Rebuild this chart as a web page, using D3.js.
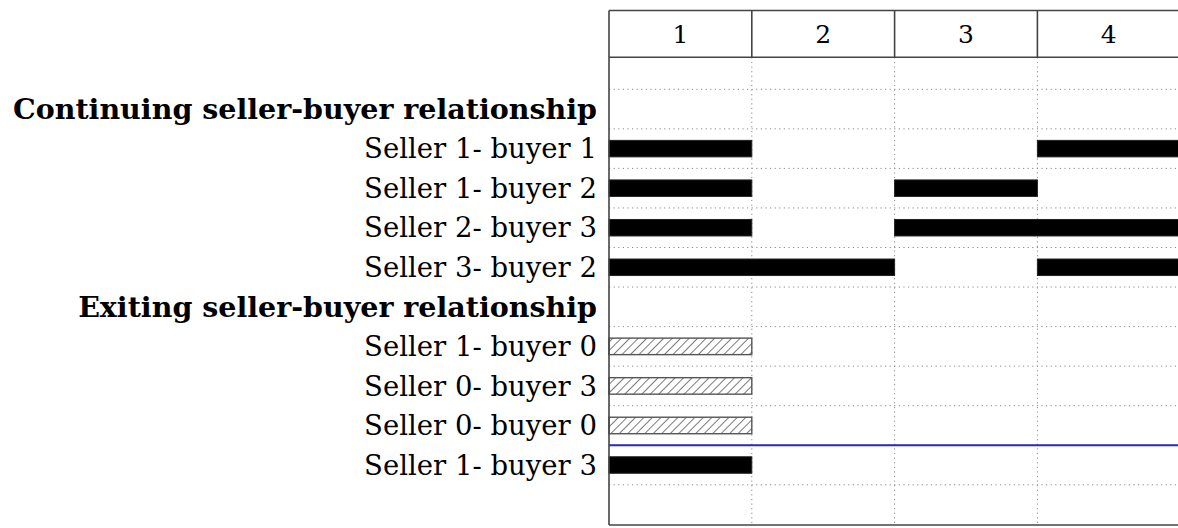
<!DOCTYPE html>
<html>
<head>
<meta charset="utf-8">
<script src="https://cdn.jsdelivr.net/npm/d3@7"></script>
<style>
  body { margin: 0; background: #fff; }
  svg { display: block; }
</style>
</head>
<body>
<div id="main_graphs"></div>
<script>

// periods shown in the header
var periods = [1, 2, 3, 4]

// row labels, top to bottom
var rowLabels = [
  "Continuing seller-buyer relationship",
  "Seller 1- buyer 1",
  "Seller 1- buyer 2",
  "Seller 2- buyer 3",
  "Seller 3- buyer 2",
  "Exiting seller-buyer relationship",
  "Seller 1- buyer 0",
  "Seller 0- buyer 3",
  "Seller 0- buyer 0",
  "Seller 1- buyer 3"
]
var groupRows = ["Continuing seller-buyer relationship", "Exiting seller-buyer relationship"]

// bars: row, start period, end period (inclusive), style
var barRows   = ["Seller 1- buyer 1", "Seller 1- buyer 1", "Seller 1- buyer 2", "Seller 1- buyer 2",
                 "Seller 2- buyer 3", "Seller 2- buyer 3", "Seller 3- buyer 2", "Seller 3- buyer 2",
                 "Seller 1- buyer 0", "Seller 0- buyer 3", "Seller 0- buyer 0", "Seller 1- buyer 3"]
var barStart  = [1, 4, 1, 3, 1, 3, 1, 4, 1, 1, 1, 1]
var barEnd    = [1, 4, 1, 3, 1, 4, 2, 4, 1, 1, 1, 1]
var barHatched = [false, false, false, false, false, false, false, false, true, true, true, false]

// blue separator sits above this row
var separatorRow = "Seller 1- buyer 3"

const width = 1178
const height = 528

const svg = d3.select('#main_graphs')
  .append("svg")
  .attr("width", width)
  .attr("height", height)

var defs = svg.append("defs")
var pat = defs.append("pattern")
  .attr("id", "hatch")
  .attr("patternUnits", "userSpaceOnUse")
  .attr("width", 6)
  .attr("height", 6)
  .attr("patternTransform", "rotate(45)")
pat.append("rect").attr("width", 6).attr("height", 6).attr("fill", "#fff")
pat.append("line")
  .attr("x1", 0).attr("y1", 0).attr("x2", 0).attr("y2", 6)
  .attr("stroke", "#333")
  .attr("stroke-width", 1.3)

var frameLeft = 609
var frameTop = 10.5
var headerBottom = 57.3
var frameBottom = 525

var x = d3.scaleLinear()
  .domain([0, periods.length])
  .range([frameLeft, frameLeft + 4 * 142.8])

var y = d3.scaleBand()
  .domain(rowLabels)
  .range([89.3, 484.8])
  .paddingInner(0)

var grid = svg.append("g")

// horizontal dotted row boundaries
var bounds = d3.range(rowLabels.length + 1).map(function(i) { return y.range()[0] + i * y.step() })
grid.selectAll("line.h")
  .data(bounds)
  .enter()
  .append("line")
  .attr("class", "h")
  .attr("x1", frameLeft).attr("x2", width)
  .attr("y1", function(d) { return d }).attr("y2", function(d) { return d })
  .attr("stroke", "#8a8a8a")
  .attr("stroke-width", 1)
  .attr("stroke-dasharray", "1.2,3.4")

// vertical dotted period boundaries
grid.selectAll("line.v")
  .data(d3.range(1, periods.length))
  .enter()
  .append("line")
  .attr("class", "v")
  .attr("x1", function(d) { return x(d) }).attr("x2", function(d) { return x(d) })
  .attr("y1", headerBottom).attr("y2", frameBottom)
  .attr("stroke", "#8a8a8a")
  .attr("stroke-width", 1)
  .attr("stroke-dasharray", "1.2,3.4")

// bars
var barH = 16.5
svg.append("g")
  .selectAll("rect")
  .data(d3.range(barRows.length))
  .enter()
  .append("rect")
  .attr("x", function(i) { return x(barStart[i] - 1) })
  .attr("width", function(i) { return x(barEnd[i]) - x(barStart[i] - 1) })
  .attr("y", function(i) { return y(barRows[i]) + y.bandwidth() / 2 - barH / 2 })
  .attr("height", barH)
  .attr("fill", function(i) { return barHatched[i] ? "url(#hatch)" : "#000" })
  .attr("stroke", function(i) { return barHatched[i] ? "#555" : "#222" })
  .attr("stroke-width", function(i) { return barHatched[i] ? 1.4 : 1 })

// blue line
svg.append("line")
  .attr("x1", frameLeft).attr("x2", width)
  .attr("y1", y(separatorRow)).attr("y2", y(separatorRow))
  .attr("stroke", "#2a2ab8")
  .attr("stroke-width", 2)

// frame: left and bottom
var frame = svg.append("g")
  .attr("stroke", "#444")
  .attr("stroke-width", 1.6)
  .attr("fill", "none")
frame.append("line").attr("x1", frameLeft).attr("x2", frameLeft).attr("y1", frameTop).attr("y2", frameBottom)
frame.append("line").attr("x1", frameLeft).attr("x2", width).attr("y1", frameBottom).attr("y2", frameBottom)

// header
frame.append("line").attr("x1", frameLeft).attr("x2", width).attr("y1", frameTop).attr("y2", frameTop)
frame.append("line").attr("x1", frameLeft).attr("x2", width).attr("y1", headerBottom).attr("y2", headerBottom)
frame.selectAll("line.hd")
  .data(d3.range(1, periods.length + 1))
  .enter()
  .append("line")
  .attr("x1", function(d) { return x(d) }).attr("x2", function(d) { return x(d) })
  .attr("y1", frameTop).attr("y2", headerBottom)

svg.append("g")
  .selectAll("text")
  .data(periods)
  .enter()
  .append("text")
  .attr("x", function(d) { return (x(d - 1) + x(d)) / 2 })
  .attr("y", (frameTop + headerBottom) / 2)
  .attr("dy", "0.35em")
  .style("text-anchor", "middle")
  .style("font-family", "'DejaVu Serif', serif")
  .style("font-size", "25px")
  .text(function(d) { return d })

// row labels
svg.append("g")
  .selectAll("text")
  .data(rowLabels)
  .enter()
  .append("text")
  .attr("x", 597)
  .attr("y", function(d) { return y(d) + y.bandwidth() / 2 })
  .attr("dy", "0.35em")
  .style("text-anchor", "end")
  .style("font-family", "'DejaVu Serif', serif")
  .style("font-size", function(d) { return groupRows.includes(d) ? "28.5px" : "27.5px" })
  .style("font-weight", function(d) { return groupRows.includes(d) ? "bold" : "normal" })
  .text(function(d) { return d })

</script>
</body>
</html>
